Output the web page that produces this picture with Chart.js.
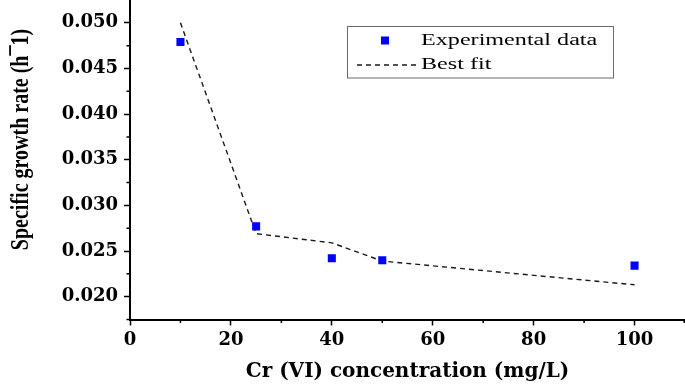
<!DOCTYPE html>
<html>
<head>
<meta charset="utf-8">
<script src="https://cdn.jsdelivr.net/npm/chart.js@4.4.1/dist/chart.umd.min.js"></script>
<style>
  html, body { margin: 0; padding: 0; background: #fff; }
  #wrap { width: 685px; height: 386px; position: relative; }
</style>
</head>
<body>
<div id="wrap"><canvas id="growth"></canvas></div>
<script>
// -- data --------------------------------------------------------------------
const CONC = [10, 25, 40, 50, 100];                       // Cr (VI), mg/L
const RATE_EXP = [0.0479, 0.0277, 0.0242, 0.0240, 0.0234]; // measured
const RATE_FIT = [0.0500, 0.0269, 0.0259, 0.0239, 0.0213]; // model curve

const X_TICKS = [0, 20, 40, 60, 80, 100];
const X_MINOR = [10, 30, 50, 70, 90, 110];
const Y_TICKS = [0.020, 0.025, 0.030, 0.035, 0.040, 0.045, 0.050];
const Y_MINOR = [0.0175, 0.0225, 0.0275, 0.0325, 0.0375, 0.0425, 0.0475];

const LABEL_EXP = 'Experimental data';
const LABEL_FIT = 'Best fit';
const X_TITLE = 'Cr (VI) concentration (mg/L)';
const Y_TITLE = 'Specific growth rate (h\u00AF1)';

const TICK_FONT = { family: '"DejaVu Serif", serif', size: 18, weight: 'bold' };

// minor ticks, in-plot legend box and the y title (the source figure is
// stretched sideways, so the hand-drawn texts get a horizontal scale)
const decorations = {
  id: 'decorations',
  afterDraw(chart) {
    const ctx = chart.ctx;
    const xs = chart.scales.x, ys = chart.scales.y;
    const area = chart.chartArea;
    ctx.save();
    ctx.strokeStyle = '#000';
    ctx.lineWidth = 1.5;
    ctx.beginPath();
    X_MINOR.forEach(function (v) {
      const px = Math.min(xs.getPixelForValue(v), 684.2);
      ctx.moveTo(px, area.bottom);
      ctx.lineTo(px, area.bottom + 3.5);
    });
    Y_MINOR.forEach(function (v) {
      const py = ys.getPixelForValue(v);
      ctx.moveTo(area.left, py);
      ctx.lineTo(area.left - 3.5, py);
    });
    ctx.stroke();

    // legend
    const bx = 347.5, by = 26.5, bw = 266, bh = 51.5;
    ctx.lineWidth = 1;
    ctx.strokeStyle = '#6a6a6a';
    ctx.strokeRect(bx, by, bw, bh);

    const exp = chart.data.datasets[0], fit = chart.data.datasets[1];
    ctx.fillStyle = exp.backgroundColor;
    ctx.fillRect(381, 36.5, 8, 8);

    ctx.strokeStyle = fit.borderColor;
    ctx.lineWidth = fit.borderWidth;
    ctx.setLineDash(fit.borderDash);
    ctx.beginPath();
    ctx.moveTo(357, 65);
    ctx.lineTo(418, 65);
    ctx.stroke();
    ctx.setLineDash([]);

    ctx.fillStyle = '#000';
    ctx.font = '17px "Liberation Serif", serif';
    ctx.textBaseline = 'middle';
    ctx.textAlign = 'left';
    ctx.save();
    ctx.translate(421, 0);
    ctx.scale(1.42, 1);
    ctx.fillText(exp.label, 0, 41);
    ctx.fillText(fit.label, 0, 64.5);
    ctx.restore();

    // y axis title
    ctx.translate(21, 139.5);
    ctx.rotate(-Math.PI / 2);
    ctx.scale(1, 1.3);
    ctx.font = 'bold 20px "Liberation Serif", serif';
    ctx.textAlign = 'center';
    ctx.fillText(Y_TITLE, 0, 0);
    ctx.restore();
  }
};

new Chart(document.getElementById('growth'), {
  type: 'scatter',
  data: {
    datasets: [
      {
        label: LABEL_EXP,
        data: CONC.map(function (c, i) { return { x: c, y: RATE_EXP[i] }; }),
        pointStyle: 'rect',
        radius: 5.7,
        hoverRadius: 5.7,
        backgroundColor: '#0000ff',
        borderColor: '#0000ff',
        borderWidth: 0,
        order: 0
      },
      {
        label: LABEL_FIT,
        data: CONC.map(function (c, i) { return { x: c, y: RATE_FIT[i] }; }),
        showLine: true,
        radius: 0,
        borderColor: '#1a1a1a',
        borderWidth: 1.4,
        borderDash: [5, 4],
        order: 1
      }
    ]
  },
  options: {
    responsive: true,
    maintainAspectRatio: false,
    animation: false,
    layout: { padding: 0, autoPadding: false },
    plugins: { legend: { display: false }, tooltip: { enabled: false } },
    scales: {
      x: {
        type: 'linear',
        min: 0,
        max: 110,
        afterBuildTicks: function (s) { s.ticks = X_TICKS.map(function (v) { return { value: v }; }); },
        afterFit: function (s) { s.height = 66.5; s.paddingLeft = 0; s.paddingRight = 0; },
        ticks: { color: '#000', font: TICK_FONT, padding: 4, maxRotation: 0, autoSkip: false },
        grid: { drawOnChartArea: false, tickLength: 6, tickWidth: 1.5, tickColor: '#000' },
        border: { color: '#000', width: 2 },
        title: {
          display: true,
          text: X_TITLE,
          color: '#000',
          font: { family: '"DejaVu Serif", serif', size: 20, weight: 'bold' },
          padding: { top: 0, bottom: 2 }
        }
      },
      y: {
        type: 'linear',
        min: 0.0175,
        max: 0.0525,
        afterBuildTicks: function (s) { s.ticks = Y_TICKS.map(function (v) { return { value: v }; }); },
        afterFit: function (s) { s.width = 130; s.paddingTop = 0; s.paddingBottom = 0; },
        ticks: {
          color: '#000',
          font: TICK_FONT,
          padding: 6,
          autoSkip: false,
          callback: function (v) { return Number(v).toFixed(3); }
        },
        grid: { drawOnChartArea: false, tickLength: 6, tickWidth: 1.5, tickColor: '#000' },
        border: { color: '#000', width: 2 }
      }
    }
  },
  plugins: [decorations]
});
</script>
</body>
</html>
